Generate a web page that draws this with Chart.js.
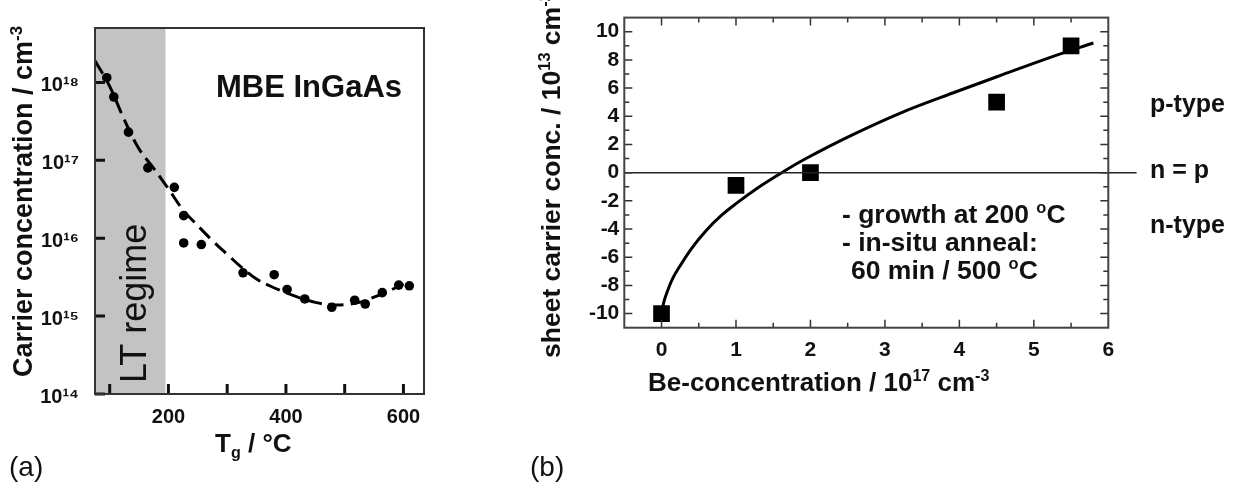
<!DOCTYPE html>
<html><head><meta charset="utf-8">
<script src="https://cdn.jsdelivr.net/npm/chart.js@4.4.1/dist/chart.umd.min.js"></script>
<style>
html,body{margin:0;padding:0;background:#fff;}
body{width:1242px;height:489px;position:relative;overflow:hidden;}
#wa{position:absolute;left:0;top:0;width:450px;height:489px;}
#wb{position:absolute;left:450px;top:0;width:792px;height:489px;}
</style></head><body>
<div id="wa"><canvas id="ca"></canvas></div>
<div id="wb"><canvas id="cb"></canvas></div>
<script>
// ---------- panel (a) data ----------
const tgTemps = [95, 107, 132, 165, 210, 226, 226, 256, 327, 380, 402, 432, 478, 517, 535, 564, 592, 610];
const carrierConc = [1.15e18, 6.5e17, 2.3e17, 8e16, 4.5e16, 1.95e16, 8.7e15, 8.3e15, 3.6e15, 3.4e15, 2.2e15, 1.66e15, 1.3e15, 1.6e15, 1.43e15, 2.0e15, 2.5e15, 2.45e15];
const fitTemps = [75, 100, 125, 150, 175, 200, 225, 250, 275, 300, 325, 350, 375, 400, 425, 450, 475, 500, 525, 550, 575, 600];
const fitConc = [1.9e18, 8.9e17, 3.3e17, 1.4e17, 7.9e16, 4.3e16, 2.3e16, 1.45e16, 9.3e15, 6.2e15, 4.2e15, 3.0e15, 2.4e15, 2.0e15, 1.7e15, 1.5e15, 1.4e15, 1.4e15, 1.5e15, 1.75e15, 2.1e15, 2.6e15];
const ltRegime = [75, 195];
const xTicksA = [100, 200, 300, 400, 500, 600];
const xLabelsA = [200, 400, 600];
const yTicksA = [1e14, 1e15, 1e16, 1e17, 1e18];

// ---------- panel (b) data ----------
const beConc = [0, 1, 2, 4.5, 5.5];
const sheetConc = [-10, -0.9, 0, 5, 9];
const fitBe = [0, 0.03, 0.08, 0.15, 0.25, 0.4, 0.6, 0.8, 1.0, 1.3, 1.63, 1.94, 2.57, 3.24, 3.91, 4.58, 5.26, 5.8];
const fitSheet = [-10, -9.2, -8.4, -7.5, -6.6, -5.4, -4.1, -3.05, -2.2, -1.05, 0.05, 1.0, 2.7, 4.3, 5.65, 6.95, 8.25, 9.2];
const npLine = [-0.5, 6.38];
const xTicksB = [0, 1, 2, 3, 4, 5, 6];
const yTicksB = [-10, -8, -6, -4, -2, 0, 2, 4, 6, 8, 10];

const FONT = "'Liberation Sans', Arial, Helvetica, sans-serif";
const SUP = {'0':'⁰','1':'¹','2':'²','3':'³','4':'⁴','5':'⁵','6':'⁶','7':'⁷','8':'⁸','9':'⁹','-':'⁻'};
const toSup = s => String(s).split('').map(c => SUP[c] || c).join('');

function drawRich(ctx, segs, x, y, o) {
  const size = o.size, weight = o.weight || 'bold';
  ctx.save();
  ctx.translate(x, y);
  if (o.rot) ctx.rotate(-Math.PI / 2);
  ctx.fillStyle = o.color || '#111';
  ctx.textBaseline = 'alphabetic';
  ctx.textAlign = 'left';
  const parts = segs.map(s => {
    const t = typeof s === 'string' ? s : s[0];
    const m = typeof s === 'string' ? 0 : s[1];
    const fs = m ? size * 0.62 : size;
    ctx.font = weight + ' ' + fs + 'px ' + FONT;
    return {t, m, fs, w: ctx.measureText(t).width};
  });
  const total = parts.reduce((a, p) => a + p.w, 0);
  let cx = o.align === 'center' ? -total / 2 : 0;
  for (const p of parts) {
    ctx.font = weight + ' ' + p.fs + 'px ' + FONT;
    const dy = p.m === 1 ? -size * 0.38 : (p.m === 2 ? size * 0.22 : 0);
    ctx.fillText(p.t, cx, dy);
    cx += p.w;
  }
  ctx.restore();
}

function frame(ctx, a, color, w) {
  ctx.save();
  ctx.strokeStyle = color; ctx.lineWidth = w;
  ctx.strokeRect(a.left, a.top, a.right - a.left, a.bottom - a.top);
  ctx.restore();
}

const decorA = {
  id: 'decorA',
  beforeDatasetsDraw(chart) {
    const {ctx, chartArea: a, scales: {x}} = chart;
    const x0 = Math.max(a.left, x.getPixelForValue(ltRegime[0]));
    const x1 = x.getPixelForValue(ltRegime[1]);
    ctx.save();
    ctx.fillStyle = '#c3c3c3';
    ctx.fillRect(x0, a.top, x1 - x0, a.bottom - a.top);
    ctx.restore();
  },
  afterDraw(chart) {
    const {ctx, chartArea: a, scales: {x, y}} = chart;
    ctx.save();
    ctx.strokeStyle = '#111'; ctx.lineWidth = 3;
    ctx.beginPath();
    for (const v of yTicksA) { const py = y.getPixelForValue(v); ctx.moveTo(a.left, py); ctx.lineTo(a.left + 10, py); }
    for (const v of xTicksA) { const px = x.getPixelForValue(v); ctx.moveTo(px, a.bottom); ctx.lineTo(px, a.bottom - 10); }
    ctx.stroke();
    ctx.restore();
    frame(ctx, a, '#333', 2);
    drawRich(ctx, ['Carrier concentration / cm', ['-3', 1]], 32, 377, {size: 27, rot: true});
    drawRich(ctx, ['T', ['g', 2], ' / °C'], 215, 452, {size: 26});
    drawRich(ctx, ['MBE InGaAs'], 216, 97, {size: 31});
    drawRich(ctx, ['LT regime'], 146, 383, {size: 36, weight: 'normal', rot: true});
    drawRich(ctx, ['(a)'], 9, 476, {size: 28, weight: 'normal'});
  }
};

const decorB = {
  id: 'decorB',
  afterDraw(chart) {
    const {ctx, chartArea: a, scales: {x, y}} = chart;
    ctx.save();
    ctx.strokeStyle = '#333'; ctx.lineWidth = 1.5;
    ctx.beginPath();
    for (let v = -10; v <= 10; v++) {
      const py = y.getPixelForValue(v); const L = v % 2 === 0 ? 8 : 5;
      ctx.moveTo(a.left, py); ctx.lineTo(a.left + L, py);
      ctx.moveTo(a.right, py); ctx.lineTo(a.right - L, py);
    }
    for (let v = 0; v <= 5.5; v += 0.5) {
      const px = x.getPixelForValue(v); const L = Number.isInteger(v) ? 8 : 5;
      ctx.moveTo(px, a.bottom); ctx.lineTo(px, a.bottom - L);
      ctx.moveTo(px, a.top); ctx.lineTo(px, a.top + L);
    }
    ctx.stroke();
    ctx.restore();
    frame(ctx, a, '#444', 2);
    drawRich(ctx, ['sheet carrier conc. / 10', ['13', 1], ' cm', ['-2', 1]], 110, 358, {size: 26.5, rot: true});
    drawRich(ctx, ['Be-concentration / 10', ['17', 1], ' cm', ['-3', 1]], 198, 391, {size: 26});
    drawRich(ctx, ['(b)'], 80, 476, {size: 28, weight: 'normal'});
    drawRich(ctx, ['- growth at 200 ', ['o', 1], 'C'], 392, 223, {size: 26.5});
    drawRich(ctx, ['- in-situ anneal:'], 392, 251, {size: 26.5});
    drawRich(ctx, ['60 min / 500 ', ['o', 1], 'C'], 401, 279, {size: 26.5});
    drawRich(ctx, ['p-type'], 700, 112, {size: 25});
    drawRich(ctx, ['n = p'], 700, 178, {size: 25});
    drawRich(ctx, ['n-type'], 700, 233, {size: 25});
  }
};

new Chart(document.getElementById('ca'), {
  type: 'scatter',
  data: {datasets: [
    {label: 'fit', type: 'line', data: fitTemps.map((t, i) => ({x: t, y: fitConc[i]})),
     borderColor: '#000', borderWidth: 3, borderDash: [15, 7], pointRadius: 0, tension: 0.4, fill: false},
    {label: 'data', data: tgTemps.map((t, i) => ({x: t, y: carrierConc[i]})),
     pointRadius: 4.8, pointStyle: 'circle', backgroundColor: '#000', borderColor: '#000', borderWidth: 0}
  ]},
  options: {
    responsive: true, maintainAspectRatio: false, animation: false, devicePixelRatio: 1,
    layout: {padding: {left: 0, top: 11, right: 26, bottom: 0}},
    plugins: {legend: {display: false}, tooltip: {enabled: false}},
    scales: {
      x: {type: 'linear', min: 75, max: 635,
          afterBuildTicks: s => { s.ticks = xTicksA.map(v => ({value: v})); },
          afterFit: s => { s.height = 95; },
          ticks: {callback: v => xLabelsA.includes(v) ? String(v) : '', autoSkip: false, maxRotation: 0,
                  padding: 11, color: '#111', font: {family: FONT, size: 20, weight: 'bold'}},
          grid: {display: false, drawTicks: false}, border: {display: false}},
      y: {type: 'logarithmic', min: 1e14, max: 5e18,
          afterBuildTicks: s => { s.ticks = yTicksA.map(v => ({value: v})); },
          afterFit: s => { s.width = 95; },
          ticks: {callback: v => '10' + toSup(Math.round(Math.log10(v))), autoSkip: false,
                  padding: 16, labelOffset: 3, color: '#111', font: {family: FONT, size: 20, weight: 'bold'}},
          grid: {display: false, drawTicks: false}, border: {display: false}}
    }
  },
  plugins: [decorA]
});

new Chart(document.getElementById('cb'), {
  type: 'scatter',
  data: {datasets: [
    {label: 'n = p', type: 'line', data: npLine.map(v => ({x: v, y: 0})), borderColor: '#222', borderWidth: 1.5,
     pointRadius: 0, fill: false, clip: false},
    {label: 'fit', type: 'line', data: fitBe.map((v, i) => ({x: v, y: fitSheet[i]})),
     borderColor: '#000', borderWidth: 3, pointRadius: 0, tension: 0.4, cubicInterpolationMode: 'monotone', fill: false},
    {label: 'data', data: beConc.map((v, i) => ({x: v, y: sheetConc[i]})),
     pointRadius: 11.8, pointStyle: 'rect', backgroundColor: '#000', borderColor: '#000', borderWidth: 0}
  ]},
  options: {
    responsive: true, maintainAspectRatio: false, animation: false, devicePixelRatio: 1,
    layout: {padding: {left: 0, top: 10, right: 133.7, bottom: 0}},
    plugins: {legend: {display: false}, tooltip: {enabled: false}},
    scales: {
      x: {type: 'linear', min: -0.5, max: 6,
          afterBuildTicks: s => { s.ticks = xTicksB.map(v => ({value: v})); },
          afterFit: s => { s.height = 161.3; },
          ticks: {autoSkip: false, maxRotation: 0, padding: 10, color: '#111',
                  font: {family: FONT, size: 21, weight: 'bold'}},
          grid: {display: false, drawTicks: false}, border: {display: false}},
      y: {type: 'linear', min: -11, max: 11,
          afterBuildTicks: s => { s.ticks = yTicksB.map(v => ({value: v})); },
          afterFit: s => { s.width = 174.3; },
          ticks: {autoSkip: false, padding: 5, color: '#111',
                  font: {family: FONT, size: 21, weight: 'bold'}},
          grid: {display: false, drawTicks: false}, border: {display: false}}
    }
  },
  plugins: [decorB]
});
</script></body></html>
